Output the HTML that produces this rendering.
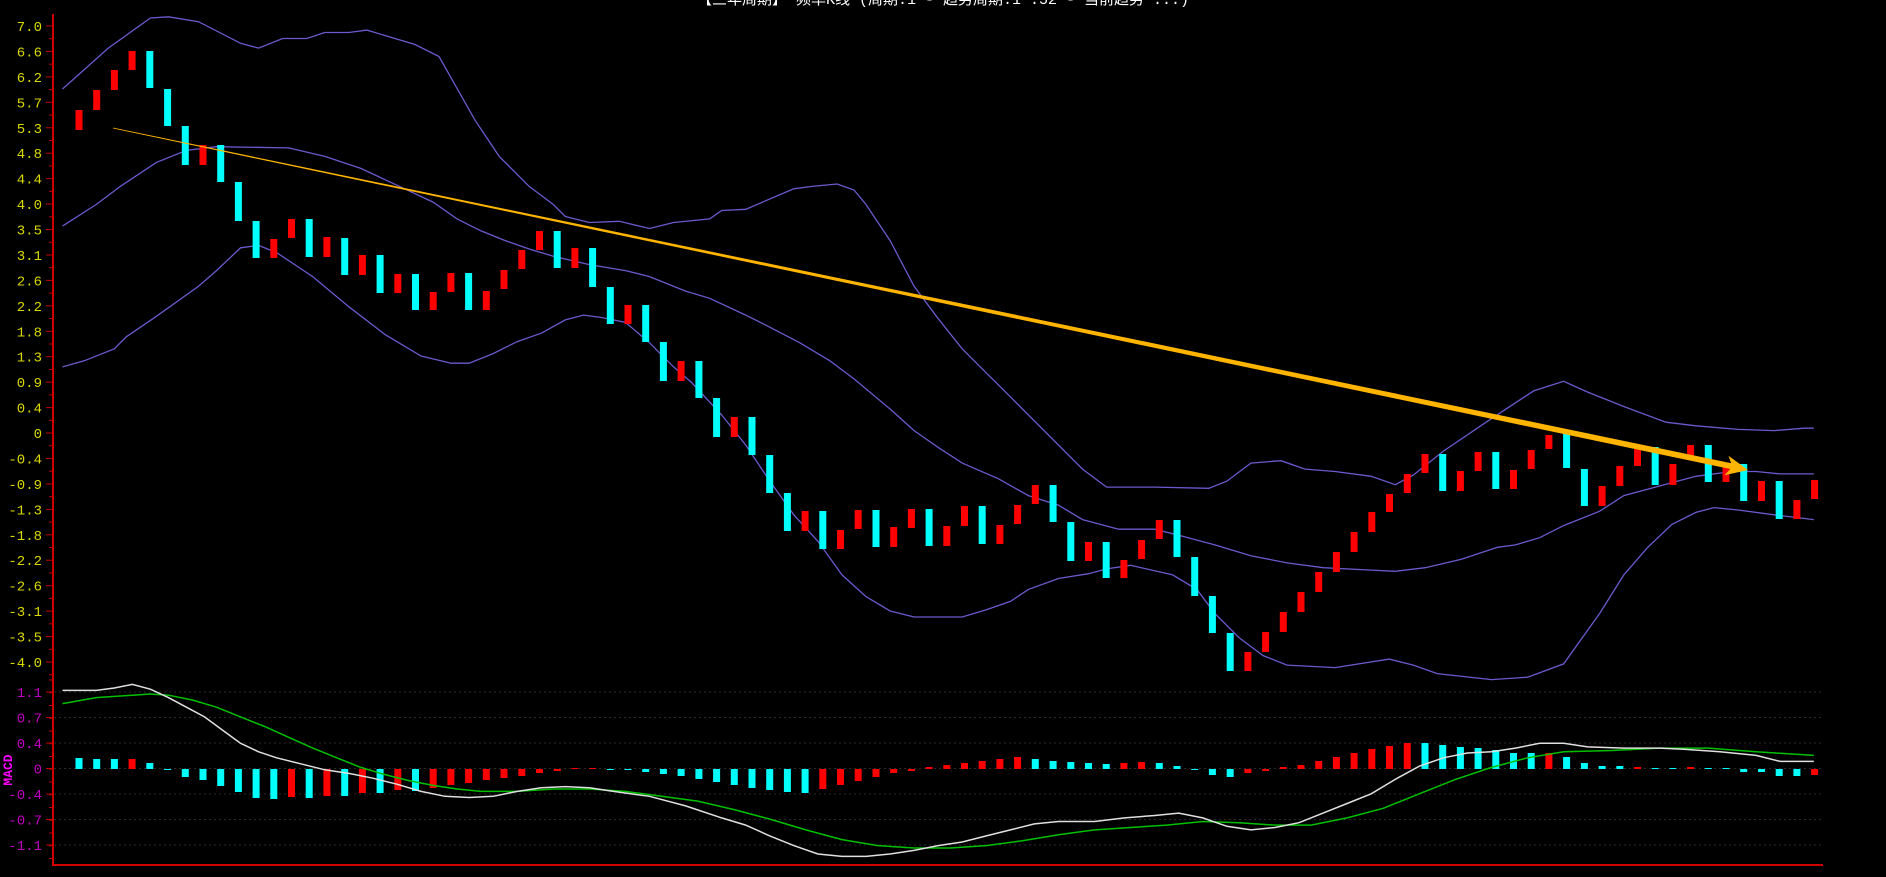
<!DOCTYPE html>
<html><head><meta charset="utf-8"><style>
html,body{margin:0;padding:0;background:#000;width:1886px;height:877px;overflow:hidden}
svg{display:block}
text{font-family:"Liberation Mono","DejaVu Sans Mono",monospace}
</style></head><body>
<svg id="s" width="1886" height="877" xmlns="http://www.w3.org/2000/svg"></svg>
<script>
const S=document.getElementById('s');let h='';
// bars: [color, top, bottom]
const B=[['r',110,130],['r',90,110],['r',70,90],['r',51,70],['c',51,88],['c',89,126],['c',126,165],['r',145,165],['c',145,182],['c',182,221],
['c',221,258],['r',239,258],['r',219,238],['c',219,257],['r',237,257],['c',238,275],['r',255,275],['c',255,293],['r',274,293],['c',274,310],
['r',292,310],['r',273,292],['c',273,310],['r',291,310],['r',270,289],['r',250,269],['r',231,250],['c',231,268],['r',248,268],['c',248,287],
['c',287,324],['r',305,324],['c',305,342],['c',342,381],['r',361,381],['c',361,398],['c',398,437],['r',417,437],['c',417,455],['c',455,493],
['c',493,531],['r',511,531],['c',511,549],['r',530,549],['r',510,529],['c',510,547],['r',527,547],['r',509,528],['c',509,546],['r',526,546],
['r',506,526],['c',506,544],['r',525,544],['r',505,524],['r',485,504],['c',485,522],['c',522,561],['r',542,561],['c',542,578],['r',560,578],
['r',540,559],['r',520,539],['c',520,557],['c',557,596],['c',596,633],['c',633,671],['r',652,671],['r',632,652],['r',612,632],['r',592,612],
['r',572,592],['r',552,572],['r',532,552],['r',512,532],['r',494,512],['r',474,493],['r',454,473],['c',454,491],['r',471,491],['r',452,471],
['c',452,489],['r',470,489],['r',450,469],['r',435,449],['c',430,468],['c',469,506],['r',486,506],['r',466,486],['r',447,466],['c',447,485],
['r',464,485],['r',445,459],['c',445,482],['r',464,482],['c',464,501],['r',481,501],['c',481,519],['r',500,519],['r',480,499]];
const M=[['c',11],['c',10],['c',10],['r',10],['c',6],['c',-1],['c',-8],['c',-11],['c',-17],['c',-23],['c',-29],['c',-30],['r',-28],['c',-29],['r',-27],['c',-27],['r',-24],['c',-24],['r',-21],['c',-22],
['r',-19],['r',-16],['r',-14],['r',-11],['r',-9],['r',-7],['r',-4],['r',-2],['r',1],['r',1],['c',-1],['c',-1],['c',-3],['c',-5],['c',-7],['c',-10],['c',-13],['c',-16],['c',-19],['c',-21],
['c',-23],['c',-24],['r',-20],['r',-16],['r',-12],['r',-8],['r',-4],['r',-2],['r',2],['r',4],['r',6],['r',8],['r',10],['r',12],['c',10],['c',8],['c',7],['c',6],['c',5],['r',6],
['r',7],['c',6],['c',3],['c',-1],['c',-6],['c',-8],['r',-4],['r',-2],['r',2],['r',4],['r',8],['r',12],['r',16],['r',20],['r',23],['r',26],['c',26],['c',24],['c',22],['c',21],
['c',19],['c',16],['c',16],['r',16],['c',12],['c',6],['c',3],['c',3],['r',2],['c',1],['c',1],['r',2],['c',1],['c',1],['c',-3],['c',-3],['c',-7],['c',-7],['r',-6]];
const col={r:'#ff0000',c:'#00ffff'};
// grid in MACD
const ml=['1.1','0.7','0.4','0','-0.4','-0.7','-1.1'];
ml.forEach((t,k)=>{const y=692+k*25.5;h+=`<line x1="54" y1="${y}" x2="1823" y2="${y}" stroke="#2a2a2a" stroke-dasharray="2,3"/>`;
h+=`<text x="42" y="${y+5}" fill="#c000c0" font-size="14" text-anchor="end">${t}</text><line x1="46" y1="${y}" x2="53" y2="${y}" stroke="#c00000"/>`;});
for(let y=680;y<860;y+=12.75)h+=`<line x1="49" y1="${y}" x2="53" y2="${y}" stroke="#c00000"/>`;
// price labels
const pl=['7.0','6.6','6.2','5.7','5.3','4.8','4.4','4.0','3.5','3.1','2.6','2.2','1.8','1.3','0.9','0.4','0','-0.4','-0.9','-1.3','-1.8','-2.2','-2.6','-3.1','-3.5','-4.0'];
pl.forEach((t,k)=>{const y=26+k*25.44;h+=`<text x="42" y="${y+5}" fill="#d8d800" font-size="14" text-anchor="end">${t}</text><line x1="46" y1="${y}" x2="53" y2="${y}" stroke="#c00000"/><line x1="49" y1="${y+12.72}" x2="53" y2="${y+12.72}" stroke="#c00000"/>`;});
h+=`<text transform="translate(12,770) rotate(-90)" fill="#ff00ff" font-size="13" font-weight="bold" text-anchor="middle">MACD</text>`;
h+=`<line x1="53" y1="14" x2="53" y2="866" stroke="#d00000" stroke-width="2"/><line x1="53" y1="865" x2="1823" y2="865" stroke="#d00000" stroke-width="2"/>`;
// bands (displayed coords scaled)
const up=[[52,74],[90,40],[125,15],[140,14],[165,18],[200,36],[215,40],[235,32],[255,32],[270,27],[290,27],[305,25],[345,37],[365,47],[395,100],[415,130],[440,155],[460,170],[470,180],[490,185],[515,184],[540,190],[560,185],[590,182],[600,175],[620,174],[660,157],[675,155],[696,153],[710,158],[720,170],[740,200],[760,238],[780,265],[800,290],[820,310],[840,330],[850,340],[870,360],[900,390],[920,405],[960,405],[1005,406],[1020,400],[1040,385],[1065,383],[1085,390],[1110,392],[1140,396],[1160,403],[1175,395],[1200,375],[1240,348],[1275,325],[1300,317],[1320,326],[1350,338],[1385,351],[1410,354],[1445,357],[1475,358],[1500,356],[1508,356]];
const mid=[[52,188],[80,170],[100,155],[130,135],[155,125],[180,122],[240,123],[270,130],[300,140],[330,154],[360,168],[380,182],[400,192],[420,200],[440,207],[460,213],[490,220],[520,225],[540,230],[570,242],[590,248],[620,262],[640,272],[665,285],[690,300],[710,315],[740,340],[760,358],[780,372],[800,385],[830,398],[855,412],[880,420],[900,432],[930,440],[960,440],[980,445],[1010,453],[1040,462],[1070,468],[1100,472],[1140,474],[1160,475],[1185,472],[1215,465],[1245,455],[1260,453],[1280,447],[1300,437],[1330,425],[1350,412],[1380,404],[1410,396],[1440,392],[1460,392],[1480,394],[1508,394]];
const lo=[[52,305],[70,300],[95,290],[105,280],[130,263],[165,238],[180,225],[200,206],[215,204],[230,210],[260,230],[290,255],[320,278],[350,296],[375,302],[390,302],[410,294],[430,284],[450,277],[470,266],[485,262],[500,264],[520,268],[540,285],[560,305],[575,318],[600,345],[620,370],[640,400],[660,428],[680,450],[700,478],[720,496],[740,508],[760,513],[800,513],[820,507],[840,500],[855,490],[880,481],[905,477],[920,473],[940,470],[975,478],[995,490],[1010,510],[1030,530],[1050,545],[1070,553],[1110,555],[1155,548],[1175,553],[1195,560],[1240,565],[1270,563],[1300,552],[1330,510],[1350,478],[1370,455],[1390,436],[1410,426],[1425,422],[1445,424],[1475,428],[1508,432]];
const wh=[[52,574],[80,574],[95,572],[110,569],[125,573],[140,580],[155,588],[170,596],[185,607],[200,618],[215,625],[230,630],[250,635],[270,640],[290,643],[310,647],[330,652],[350,658],[370,662],[390,663],[410,662],[430,658],[450,655],[470,654],[490,655],[510,658],[540,662],[570,670],[600,680],[620,686],[640,695],[660,703],[680,710],[700,712],[720,712],[740,710],[760,707],[780,703],[800,700],[820,695],[840,690],[860,685],[880,683],[910,683],[935,680],[960,678],[980,676],[1000,680],[1020,687],[1040,690],[1060,688],[1080,684],[1100,676],[1120,668],[1140,660],[1160,648],[1180,637],[1200,630],[1220,626],[1240,625],[1260,622],[1280,618],[1300,618],[1320,621],[1350,622],[1380,622],[1400,623],[1430,625],[1460,628],[1480,633],[1508,633]];
const gr=[[52,585],[80,580],[110,578],[125,577],[140,578],[160,582],[180,588],[200,596],[220,604],[240,613],[260,622],[280,630],[300,638],[320,644],[340,649],[360,653],[380,656],[400,658],[430,658],[460,656],[490,656],[520,658],[550,662],[580,666],[610,673],[640,681],[670,690],[700,698],[730,703],[760,705],[790,705],[820,703],[850,699],[880,694],[910,690],[940,688],[970,686],[1000,683],[1030,684],[1060,686],[1090,686],[1120,680],[1150,672],[1180,660],[1210,648],[1240,638],[1270,630],[1300,625],[1340,624],[1380,622],[1420,622],[1460,625],[1508,628]];
const K=1.2028;const P=a=>a.map(p=>(p[0]*K).toFixed(1)+','+(p[1]*K).toFixed(1)).join(' ');
[up,mid,lo].forEach(a=>h+=`<polyline points="${P(a)}" fill="none" stroke="#6a5acd" stroke-width="1.3"/>`);
// candles
B.forEach((b,i)=>{const x=79+i*17.71;h+=`<rect x="${(x-3.5).toFixed(1)}" y="${b[1]}" width="7" height="${b[2]-b[1]}" fill="${col[b[0]]}"/>`;});
// macd hist
M.forEach((m,i)=>{const x=79+i*17.71;let v=m[1];if(Math.abs(v)<1)v=v<0?-1:1;const y=v>0?769-v:769;h+=`<rect x="${(x-3.5).toFixed(1)}" y="${y}" width="7" height="${Math.abs(v)}" fill="${col[m[0]]}"/>`;});
h+=`<polyline points="${P(gr)}" fill="none" stroke="#00c000" stroke-width="1.5"/>`;
h+=`<polyline points="${P(wh)}" fill="none" stroke="#e0e0e0" stroke-width="1.5"/>`;
// arrow (tapered)
const x0=113,y0=128,x1=1735,y1=467;const dx=x1-x0,dy=y1-y0,L=Math.hypot(dx,dy),nx=-dy/L,ny=dx/L;
const w0=0.4,w1=3;
h+=`<polygon points="${x0+nx*w0},${y0+ny*w0} ${x1+nx*w1},${y1+ny*w1} ${x1-nx*w1},${y1-ny*w1} ${x0-nx*w0},${y0-ny*w0}" fill="#ffb400"/>`;
const tx=1748,ty=470,ux=dx/L,uy=dy/L;
h+=`<polygon points="${tx},${ty} ${tx-ux*22+nx*10},${ty-uy*22+ny*10} ${tx-ux*16},${ty-uy*16} ${tx-ux*22-nx*10},${ty-uy*22-ny*10}" fill="#ffb400"/>`;
h+=`<text x="943" y="4" fill="#ffffff" font-size="15" text-anchor="middle" font-family="Liberation Sans, Noto Sans CJK SC, sans-serif">【三年周期】 频率K线 (周期:1 - 趋势周期:1 .52 - 当前趋势 ...)</text>`;
S.innerHTML=h;
</script>
</body></html>
